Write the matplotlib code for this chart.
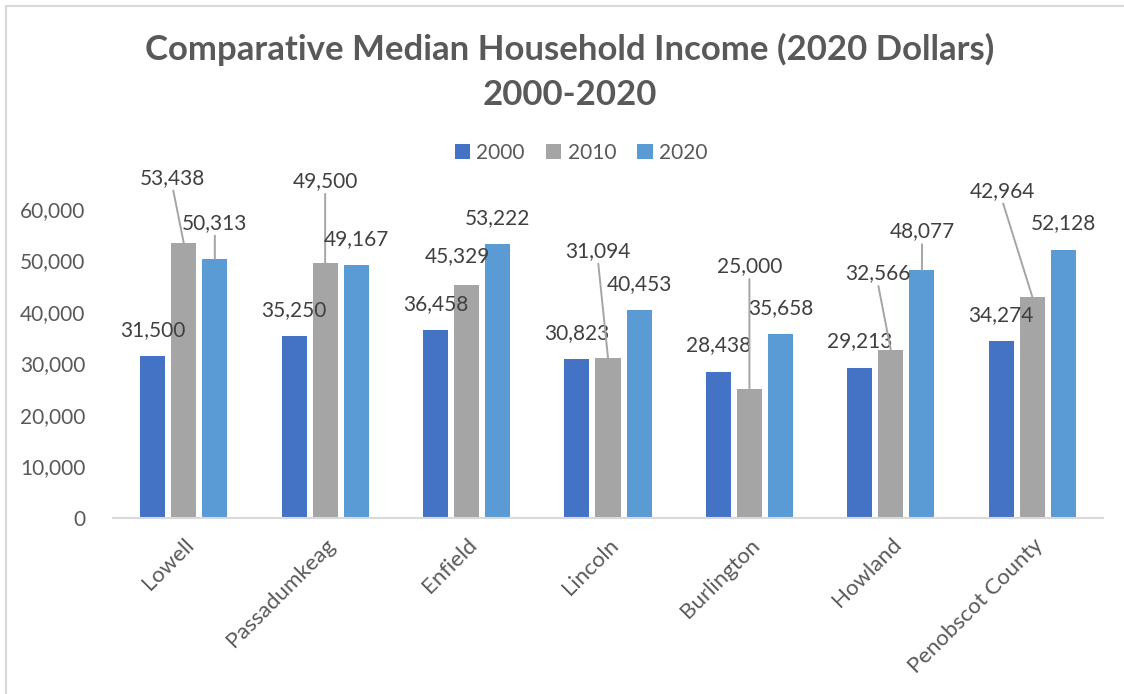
import matplotlib.pyplot as plt
import numpy as np
from matplotlib.lines import Line2D
from matplotlib.ticker import FuncFormatter

plt.rcParams['font.family'] = ['Lato', 'DejaVu Sans']

# Dati
towns = ["Lowell", "Passadumkeag", "Enfield", "Lincoln", "Burlington", "Howland", "Penobscot County"]
years = ["2000", "2010", "2020"]
inc_2000 = [31500, 35250, 36458, 30823, 28438, 29213, 34274]
inc_2010 = [53438, 49500, 45329, 31094, 25000, 32566, 42964]
inc_2020 = [50313, 49167, 53222, 40453, 35658, 48077, 52128]
yticks = [0, 10000, 20000, 30000, 40000, 50000, 60000]

colors = ["#4472C4", "#A5A5A5", "#5B9BD5"]
text_col = "#404040"
tick_col = "#595959"

# spostamento delle etichette (pixel, rispetto al centro della cima della barra)
# e se disegnare la linea guida
normal = (0, 26, False)
label_pos = {
    (0, 1): (-11, 65, True), (0, 2): (0, 36, True),
    (1, 1): (0, 82, True),
    (2, 1): (-9, 28, False),
    (3, 1): (-10, 107, True),
    (4, 1): (0, 123, True),
    (5, 1): (-13, 77, True), (5, 2): (0, 39, True),
    (6, 1): (-30, 106, True),
}

fig = plt.figure(figsize=(11.24, 6.94), dpi=100)
ax = fig.add_axes([113/1124, 1 - 518/694, 990/1124, 309/694])

x = np.arange(len(towns))
step = 0.22
width = 0.177
series = [inc_2000, inc_2010, inc_2020]
for j, vals in enumerate(series):
    xs = x + (j - 1) * step
    ax.bar(xs, vals, width, color=colors[j], label=years[j], zorder=2)
    for i, v in enumerate(vals):
        dx, dy, lead = label_pos.get((i, j), normal)
        arrow = None
        if lead:
            arrow = dict(arrowstyle='-', color="#A5A5A5", lw=1.4,
                         shrinkA=0, shrinkB=0, relpos=(0.5, 0.0))
        ax.annotate(f"{v:,}", xy=(xs[i], v), xytext=(dx, dy),
                    textcoords='offset pixels', ha='center', va='center',
                    fontsize=15, color=text_col, annotation_clip=False,
                    arrowprops=arrow)

ax.set_xlim(-0.5, len(towns) - 0.5)
ax.set_ylim(0, 60000)
ax.set_yticks(yticks)
ax.yaxis.set_major_formatter(FuncFormatter(lambda v, p: f"{int(v):,}"))
ax.set_xticks(x)
ax.set_xticklabels(towns, rotation=45, ha='right', rotation_mode='anchor', fontsize=16)
ax.tick_params(axis='y', length=0, labelsize=15, colors=tick_col, pad=20)
ax.tick_params(axis='x', length=0, colors=tick_col, pad=12)
for s in ['top', 'right', 'left']:
    ax.spines[s].set_visible(False)
ax.spines['bottom'].set_color("#D9D9D9")
ax.spines['bottom'].set_linewidth(1.5)

fig.text(570/1124, 1 - 72/694, "Comparative Median Household Income (2020 Dollars)\n2000-2020",
         ha='center', va='center', fontsize=25, fontweight='bold', color=tick_col,
         linespacing=1.5)

fig.legend(loc='center', bbox_to_anchor=(581/1124, 1 - 153/694), ncol=3, frameon=False,
           fontsize=15, labelcolor=tick_col, handlelength=0.75, handleheight=0.75,
           handletextpad=0.3, columnspacing=1.0)

# bordo del grafico
fig.add_artist(Line2D([6/1124, 1], [1 - 5.5/694, 1 - 5.5/694], color="#D9D9D9", lw=1.5))
fig.add_artist(Line2D([6.5/1124, 6.5/1124], [0, 1 - 5.5/694], color="#D9D9D9", lw=1.5))

fig.savefig("out.png", dpi=100)
